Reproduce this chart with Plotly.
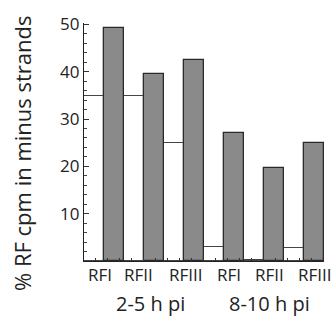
import plotly.graph_objects as go

groups = ["RFI", "RFII", "RFIII", "RFI", "RFII", "RFIII"]
white_vals = [34.8, 34.9, 25.0, 3.0, 0.3, 2.7]
gray_vals = [49.3, 39.5, 42.5, 27.0, 19.6, 24.9]
y_ticks = [10, 20, 30, 40, 50]
time_labels = ["2-5 h pi", "8-10 h pi"]

FONT = "Open Sans"
xs = list(range(len(groups)))

fig = go.Figure()
fig.add_trace(go.Bar(x=xs, y=white_vals, marker=dict(color="white", line=dict(color="#444", width=1)), showlegend=False))
fig.add_trace(go.Bar(x=xs, y=gray_vals, marker=dict(color="#8a8a8a", line=dict(color="#2a2a2a", width=1.3)), showlegend=False))

fig.update_layout(
    width=336, height=323,
    margin=dict(l=84, r=12, t=21, b=62),
    barmode="group", bargap=0, bargroupgap=0,
    plot_bgcolor="white", paper_bgcolor="white",
    font=dict(family=FONT, color="#222"),
)
fig.update_xaxes(range=[-0.5, 5.5], showline=True, linecolor="#222", linewidth=1.3,
                 ticks="inside", ticklen=3, tickcolor="#333", tickmode="linear", tick0=0.075, dtick=0.3,
                 showticklabels=False, showgrid=False, zeroline=False)
fig.update_yaxes(range=[0, 50.3], showline=True, linecolor="#222", linewidth=1.3,
                 tickvals=y_ticks, ticks="inside", ticklen=5, tickcolor="#333",
                 tickfont=dict(size=17, family=FONT, color="#222"),
                 minor=dict(dtick=2, tick0=0, ticks="inside", ticklen=3, tickcolor="#444"),
                 showgrid=False, zeroline=False)

label_shift = [-4, -5.5, 1.5, 4.5, 5.5, 11]
for i, g in enumerate(groups):
    fig.add_annotation(x=xs[i], y=0, xref="x", yref="paper", text=g, showarrow=False,
                       xanchor="center", yanchor="middle", xshift=label_shift[i], yshift=-13,
                       font=dict(size=17, family=FONT, color="#222"))
for j, t in enumerate(time_labels):
    fig.add_annotation(x=1 + 3 * j, y=0, xref="x", yref="paper", text=t, showarrow=False,
                       xanchor="center", yanchor="middle", xshift=[6.5, 5.5][j], yshift=-42,
                       font=dict(size=20, family=FONT, color="#222"))
fig.add_annotation(x=0, y=0.5, xref="paper", yref="paper", text="% RF cpm in minus strands",
                   textangle=-90, showarrow=False, xanchor="center", yanchor="middle",
                   xshift=-62, yshift=-12, font=dict(size=22, family=FONT, color="#222"))

fig.write_html("out.html")
